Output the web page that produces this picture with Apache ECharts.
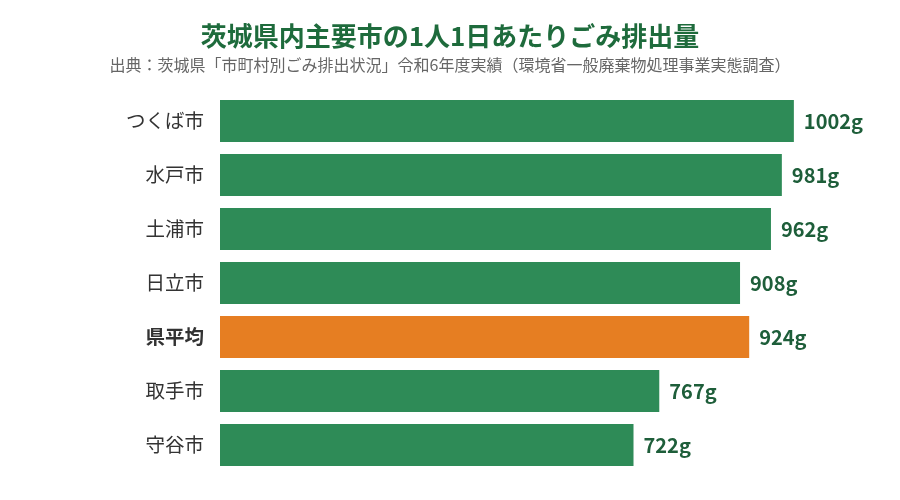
<!DOCTYPE html>
<html>
<head>
<meta charset="utf-8">
<script src="https://cdn.jsdelivr.net/npm/echarts@6/dist/echarts.min.js"></script>
<style>
  html, body { margin: 0; padding: 0; background: #fff; }
  #chart { width: 900px; height: 500px; }
</style>
</head>
<body>
<div id="chart"></div>
<script>
// data (top to bottom as shown)
const cities = ['つくば市', '水戸市', '土浦市', '日立市', '県平均', '取手市', '守谷市'];
const amounts = [1002, 981, 962, 908, 924, 767, 722];
const highlight = '県平均';

const GREEN = '#2e8b57';
const ORANGE = '#e67e22';
const FONT = '"Noto Sans CJK JP", "Noto Sans", sans-serif';

const chart = echarts.init(document.getElementById('chart'));

chart.setOption({
  animation: false,
  textStyle: { fontFamily: FONT },
  title: {
    text: '茨城県内主要市の1人1日あたりごみ排出量',
    subtext: '出典：茨城県「市町村別ごみ排出状況」令和6年度実績（環境省一般廃棄物処理事業実態調査）',
    left: 'center',
    top: 18,
    itemGap: 8,
    textStyle: { fontFamily: FONT, fontSize: 26, fontWeight: 'bold', color: '#1e6b3c' },
    subtextStyle: { fontFamily: FONT, fontSize: 16, color: '#666' }
  },
  grid: { left: 220, right: 50, top: 94, bottom: 28, containLabel: false },
  xAxis: {
    type: 'value',
    min: 0,
    max: 1100,
    show: false
  },
  yAxis: {
    type: 'category',
    data: cities,
    inverse: true,
    axisLine: { show: false },
    axisTick: { show: false },
    axisLabel: {
      margin: 16,
      fontSize: 19.5,
      color: '#333',
      formatter: v => v === highlight ? '{b|' + v + '}' : v,
      rich: { b: { fontSize: 19.5, fontWeight: 'bold', color: '#333', fontFamily: FONT } }
    }
  },
  series: [{
    type: 'bar',
    barCategoryGap: '22%',
    data: amounts.map((v, i) => ({
      value: v,
      itemStyle: { color: cities[i] === highlight ? ORANGE : GREEN }
    })),
    label: {
      show: true,
      position: 'right',
      distance: 10,
      fontSize: 20,
      fontWeight: 'bold',
      color: '#1e5e3a',
      formatter: p => p.value + 'g'
    }
  }]
});
</script>
</body>
</html>
